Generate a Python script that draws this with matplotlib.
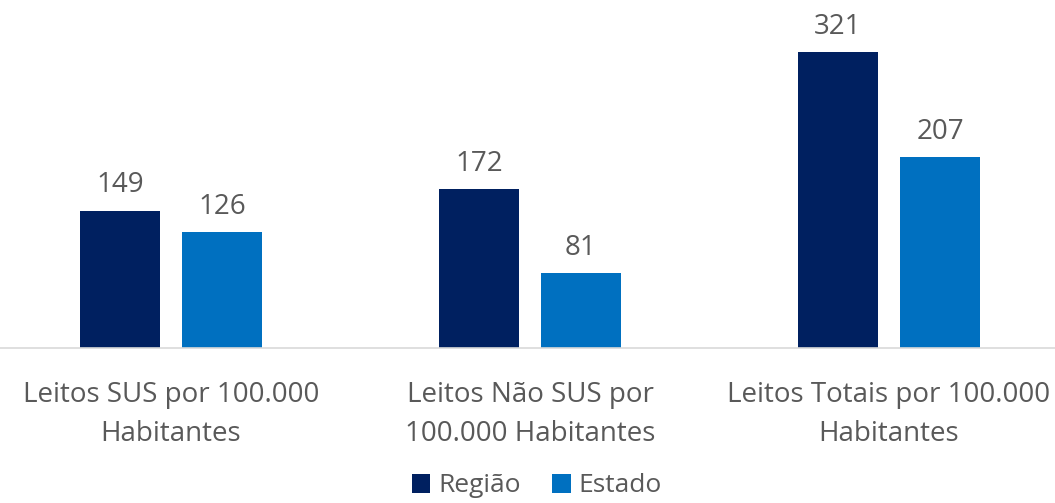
import matplotlib
matplotlib.use("Agg")
import matplotlib.pyplot as plt
import numpy as np

categories = ["Leitos SUS por 100.000\nHabitantes",
              "Leitos Não SUS por\n100.000 Habitantes",
              "Leitos Totais por 100.000\nHabitantes"]
regiao = [149, 172, 321]
estado = [126, 81, 207]
series_names = ["Região", "Estado"]

plt.rcParams['font.family'] = ['Open Sans', 'DejaVu Sans']
TXT = "#595959"
C1 = "#002060"
C2 = "#0070C0"

W, H = 1055, 503
fig = plt.figure(figsize=(W/100, H/100), dpi=100)
ax = fig.add_axes([-8.5/W, (H-348)/H, 1077/W, 348/H])

x = np.arange(len(categories))
bw = 80/359
off = 51/359
b1 = ax.bar(x - off, regiao, bw, color=C1, label=series_names[0])
b2 = ax.bar(x + off, estado, bw, color=C2, label=series_names[1])
for bars in (b1, b2):
    ax.bar_label(bars, padding=8, fontsize=20, color=TXT)

ax.set_xlim(-0.5, 2.5)
ax.set_ylim(0, 348*321/296)
ax.set_yticks([])
ax.set_xticks(x)
ax.set_xticklabels(categories, fontsize=20, color=TXT, linespacing=1.5)
ax.tick_params(axis='x', length=0, pad=24)
for s in ['top', 'right', 'left']:
    ax.spines[s].set_visible(False)
ax.spines['bottom'].set_color("#D9D9D9")
ax.spines['bottom'].set_linewidth(1.2)

fig.legend(loc='center', bbox_to_anchor=(537/W, 1-486/H), ncol=2, frameon=False,
           fontsize=19, labelcolor=TXT, handlelength=0.7, handleheight=0.7,
           handletextpad=0.3, columnspacing=1.2, borderpad=0.1)

fig.savefig("out.png", dpi=100)
